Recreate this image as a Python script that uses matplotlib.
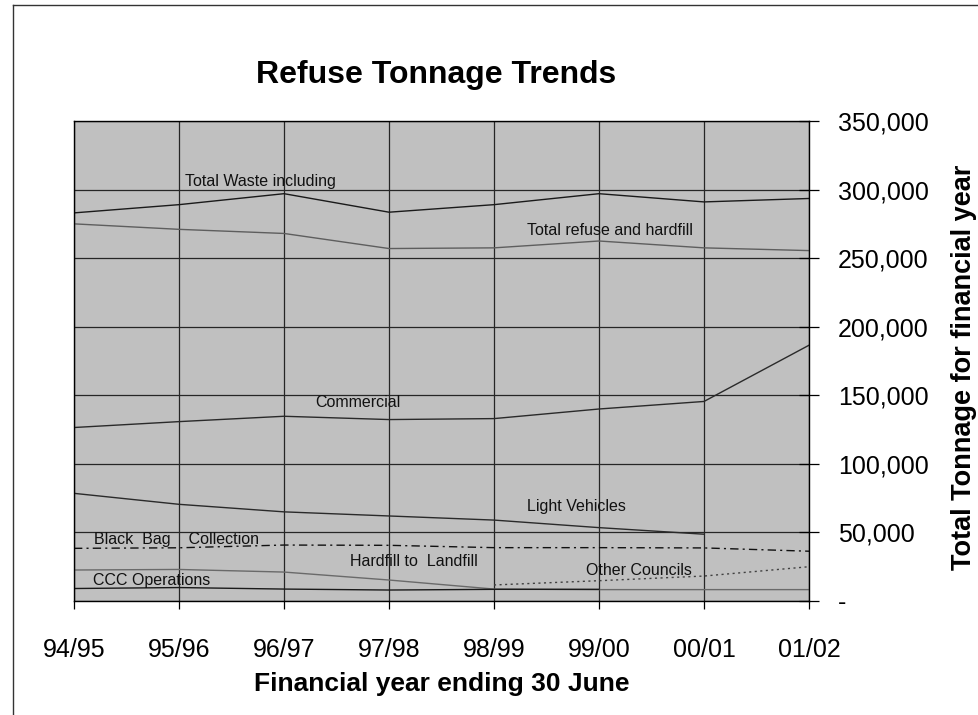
import numpy as np
import matplotlib
matplotlib.use('Agg')
import matplotlib.pyplot as plt
from matplotlib.lines import Line2D
from matplotlib.ticker import FuncFormatter, MultipleLocator

plt.rcParams['font.family'] = ['Liberation Sans', 'DejaVu Sans']

years = ['94/95', '95/96', '96/97', '97/98', '98/99', '99/00', '00/01', '01/02']
nan = np.nan

total_waste = [283000, 289000, 297000, 283500, 289000, 297000, 291000, 293500]
total_refuse = [275000, 271000, 268000, 257000, 257500, 262500, 257500, 255500]
commercial = [126500, 130800, 134700, 132300, 133000, 140000, 145500, 186500]
light_vehicles = [78500, 70500, 65000, 62000, 59000, 53500, 48700, nan]
black_bag = [38400, 38800, 40800, 40600, 38900, 38900, 38700, 36300]
hardfill = [22600, 23000, 21100, 15300, 8700, 8300, 8300, 8300]
ccc_ops = [9100, 9800, 8700, 8000, 8500, 8500, nan, nan]
other_councils = [nan, nan, nan, nan, 11700, 14800, 18200, 25000]

W, H = 979, 715
fig = plt.figure(figsize=(W / 100, H / 100), dpi=100)
ax = fig.add_axes([74 / W, 1 - 601 / H, (809 - 74) / W, (601 - 121) / H])
ax.set_facecolor('#c0c0c0')

x = np.arange(len(years))
ax.plot(x, total_waste, color='#1a1a1a', lw=1.0)
ax.plot(x, total_refuse, color='#5e5e5e', lw=1.0)
ax.plot(x, commercial, color='#2a2a2a', lw=1.0)
ax.plot(x, light_vehicles, color='#2a2a2a', lw=1.0)
ax.plot(x, black_bag, color='#111111', lw=1.0, dashes=(6, 3, 1.5, 3))
ax.plot(x, hardfill, color='#6a6a6a', lw=1.0)
ax.plot(x, ccc_ops, color='#1a1a1a', lw=1.0)
ax.plot(x, other_councils, color='#404040', lw=1.0, dashes=(1.5, 2.5))

# series captions sit inside the plot next to their lines
labels = [
    (1.06, 305800, 'Total Waste including'),
    (4.31, 270500, 'Total refuse and hardfill'),
    (2.30, 144400, 'Commercial'),
    (4.31, 68800, 'Light Vehicles'),
    (0.19, 44500, 'Black  Bag    Collection'),
    (2.63, 28700, 'Hardfill to  Landfill'),
    (0.18, 15300, 'CCC Operations'),
    (4.88, 22600, 'Other Councils'),
]
for lx, ly, txt in labels:
  ax.text(lx, ly, txt, fontsize=11.5, ha='left', va='center', color='#111111')

ax.set_xlim(0, len(years) - 1)
ax.set_ylim(0, 350000)
ax.set_xticks(x)
ax.set_xticklabels(years)
ax.yaxis.set_major_locator(MultipleLocator(50000))
ax.yaxis.set_major_formatter(
    FuncFormatter(lambda v, pos: '-' if v == 0 else f'{int(v):,}'))
ax.yaxis.tick_right()

ax.grid(True, color='#262626', lw=0.9)
ax.set_axisbelow(True)
for s in ax.spines.values():
  s.set_color('black')
  s.set_linewidth(1.0)

ax.tick_params(axis='x', direction='out', length=5.8, width=0.9,
               pad=20.5, labelsize=18, colors='black')
ax.tick_params(axis='y', direction='inout', length=14.4, width=0.9,
               pad=13.7, labelsize=18, colors='black')
for t in ax.get_yticklabels():
  t.set_horizontalalignment('left')

fig.text(436 / W, 1 - 75 / H, 'Refuse Tonnage Trends', fontsize=23,
         fontweight='bold', ha='center', va='center')
fig.text(442 / W, 1 - 684 / H, 'Financial year ending 30 June', fontsize=19,
         fontweight='bold', ha='center', va='center')
fig.text(951 / W, 1 - 367 / H, 'Total Tonnage for financial year',
         fontsize=19.5, fontweight='bold', rotation=90, ha='left', va='center')

# outer chart frame, open to the right and bottom
fig.add_artist(Line2D([13 / W, 13 / W], [1 - 5 / H, 0], color='#333333',
                      lw=1.0, transform=fig.transFigure))
fig.add_artist(Line2D([13 / W, 1], [1 - 5 / H, 1 - 5 / H], color='#333333',
                      lw=1.0, transform=fig.transFigure))

fig.savefig('out.png', dpi=100)
